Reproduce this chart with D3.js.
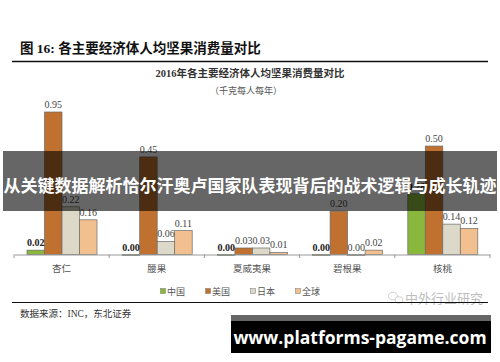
<!DOCTYPE html>
<html>
<head>
<meta charset="utf-8">
<script src="https://cdn.jsdelivr.net/npm/d3@7"></script>
<style>
  body { margin: 0; background: #fff; }
  svg { display: block; }
</style>
</head>
<body>
<div class="chart"></div>
<script>
// data
let categories = ["杏仁", "腰果", "夏威夷果", "碧根果", "核桃"];
let seriesNames = ["中国", "美国", "日本", "全球"];
let china = [0.02, 0.00, 0.00, 0.00, 0.28];
let usa = [0.95, 0.45, 0.03, 0.20, 0.50];
let japan = [0.22, 0.06, 0.03, 0.00, 0.14];
let world = [0.16, 0.11, 0.01, 0.02, 0.12];
let colors = ["#8ab83c", "#c0702f", "#ddd9c8", "#f2c08e"];

let svgWidth = 500;
let svgHeight = 362;

let svg = d3.select(".chart").append("svg")
  .attr("width", svgWidth)
  .attr("height", svgHeight);

let serif = "'Liberation Serif', 'Noto Sans CJK SC', serif";
let cjk = "'Noto Sans CJK SC', sans-serif";

// figure heading
svg.append("text")
  .attr("x", 20).attr("y", 53)
  .style("font-family", serif)
  .style("font-size", "13.5px")
  .style("font-weight", "bold")
  .attr("fill", "#111")
  .text("图  16:  各主要经济体人均坚果消费量对比");

svg.append("line")
  .attr("x1", 12).attr("x2", 488)
  .attr("y1", 61.5).attr("y2", 61.5)
  .attr("stroke", "#111").attr("stroke-width", 1.5);

// chart title
svg.append("text")
  .attr("x", 250).attr("y", 77)
  .attr("text-anchor", "middle")
  .style("font-family", serif)
  .style("font-size", "10.5px")
  .style("font-weight", "bold")
  .attr("fill", "#333")
  .text("2016年各主要经济体人均坚果消费量对比");

svg.append("text")
  .attr("x", 246).attr("y", 94)
  .attr("text-anchor", "middle")
  .style("font-family", cjk)
  .style("font-size", "9px")
  .attr("fill", "#555")
  .text("（千克每人每年）");

// scales
let x0 = d3.scaleBand().domain(categories).range([14, 490]);
let x1 = d3.scaleBand().domain(seriesNames).range([13, 83]);
let y = d3.scaleLinear().domain([0, 0.657]).range([254.5, 112]).clamp(true);

let rows = categories.map((c, i) => ({
  cat: c,
  vals: [china[i], usa[i], japan[i], world[i]]
}));

let groups = svg.append("g").selectAll("g")
  .data(rows)
  .enter().append("g")
  .attr("transform", d => `translate(${x0(d.cat)},0)`);

groups.selectAll("rect")
  .data(d => d.vals.map((v, k) => ({ v: v, k: k })))
  .enter().append("rect")
  .attr("x", d => x1(seriesNames[d.k]))
  .attr("width", x1.bandwidth())
  .attr("y", d => y(d.v))
  .attr("height", d => Math.max(y(0) - y(d.v), 1))
  .attr("fill", d => colors[d.k])
  .attr("stroke", "#6b6b6b")
  .attr("stroke-width", 0.7);

groups.selectAll("text")
  .data(d => d.vals.map((v, k) => ({ v: v, k: k })))
  .enter().append("text")
  .attr("x", d => x1(seriesNames[d.k]) + x1.bandwidth() / 2)
  .attr("y", d => y(d.v) - 4)
  .attr("text-anchor", "middle")
  .style("font-family", serif)
  .style("font-size", "10px")
  .style("font-weight", d => d.k == 0 ? "bold" : "normal")
  .attr("fill", d => d.k == 0 ? "#222" : "#444")
  .text(d => d.v.toFixed(2));

// x axis
let bottomAxis = d3.axisBottom(x0).tickSize(0).tickFormat("");
svg.append("g")
  .attr("transform", "translate(0,254.5)")
  .call(bottomAxis)
  .call(g => g.select(".domain").attr("stroke", "#999"));

svg.append("g").selectAll("line")
  .data(d3.range(categories.length + 1))
  .enter().append("line")
  .attr("x1", i => 14 + i * x0.step()).attr("x2", i => 14 + i * x0.step())
  .attr("y1", 254.5).attr("y2", 258)
  .attr("stroke", "#999");

svg.append("g").selectAll("text")
  .data(categories)
  .enter().append("text")
  .attr("x", d => x0(d) + x0.bandwidth() / 2)
  .attr("y", 272)
  .attr("text-anchor", "middle")
  .style("font-family", cjk)
  .style("font-size", "9.5px")
  .attr("fill", "#555")
  .text(d => d);

// legend
let legendX = [163, 208, 253, 298];
let legend = svg.append("g").selectAll("g")
  .data(seriesNames)
  .enter().append("g")
  .attr("transform", (d, i) => `translate(${legendX[i]},291)`);

legend.append("rect")
  .attr("x", -2.5).attr("y", -2.5)
  .attr("width", 5).attr("height", 5)
  .attr("fill", (d, i) => colors[i])
  .attr("stroke", "#777").attr("stroke-width", 0.5);

legend.append("text")
  .attr("x", 4).attr("y", 3.5)
  .style("font-family", cjk)
  .style("font-size", "9px")
  .attr("fill", "#555")
  .text(d => d);

// watermark
let wm = svg.append("g").attr("opacity", 0.55);
wm.append("ellipse").attr("cx", 393).attr("cy", 296).attr("rx", 4.5).attr("ry", 3.8)
  .attr("fill", "none").attr("stroke", "#999").attr("stroke-width", 0.8);
wm.append("ellipse").attr("cx", 399).attr("cy", 300).attr("rx", 4).attr("ry", 3.3)
  .attr("fill", "#fff").attr("stroke", "#999").attr("stroke-width", 0.8);
wm.append("text")
  .attr("x", 405).attr("y", 303)
  .style("font-family", cjk)
  .style("font-size", "13px")
  .attr("fill", "#888")
  .text("中外行业研究");

svg.append("line")
  .attr("x1", 12).attr("x2", 488)
  .attr("y1", 302.5).attr("y2", 302.5)
  .attr("stroke", "#111").attr("stroke-width", 1.2);

svg.append("text")
  .attr("x", 20).attr("y", 317)
  .style("font-family", serif)
  .style("font-size", "9.5px")
  .attr("fill", "#333")
  .text("数据来源：INC，东北证券");

// overlay banner
svg.append("rect")
  .attr("x", 3).attr("y", 151)
  .attr("width", 494).attr("height", 60)
  .attr("fill", "#000").attr("opacity", 0.6);

svg.append("text")
  .attr("x", 250).attr("y", 192)
  .attr("text-anchor", "middle")
  .style("font-family", cjk)
  .style("font-size", "17px")
  .style("font-weight", "bold")
  .attr("fill", "#fff")
  .text("从关键数据解析恰尔汗奥卢国家队表现背后的战术逻辑与成长轨迹");

// bottom url box
svg.append("rect").attr("x", 231).attr("y", 315).attr("width", 260).attr("height", 6).attr("fill", "#666");
svg.append("rect").attr("x", 231).attr("y", 321).attr("width", 260).attr("height", 32).attr("fill", "#000");
svg.append("text")
  .attr("x", 360).attr("y", 343.5)
  .attr("text-anchor", "middle")
  .style("font-family", "'Open Sans', 'DejaVu Sans', sans-serif")
  .style("font-size", "17.5px")
  .style("font-weight", "bold")
  .attr("fill", "#fff")
  .text("www.platforms-pagame.com");
</script>
</body>
</html>
